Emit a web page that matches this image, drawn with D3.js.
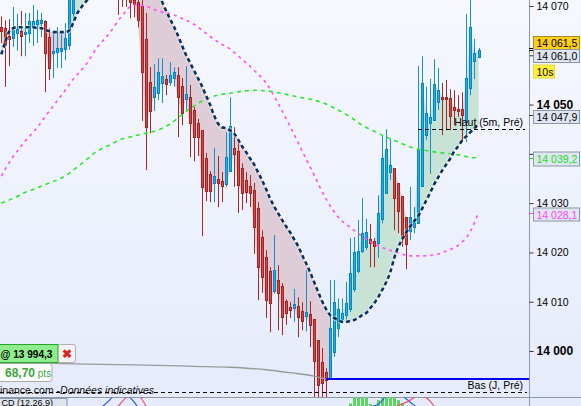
<!DOCTYPE html>
<html><head><meta charset="utf-8">
<script src="https://cdn.jsdelivr.net/npm/d3@7"></script>
<style>body{margin:0;overflow:hidden;background:#fff}svg{display:block;font-family:"Liberation Sans",Arial,sans-serif}</style>
</head><body><svg id="c" width="581" height="406"></svg>
<script>
// ---------- DATA ----------
const candleOpen = [
14065.7,14065.5,14063.9,14063.5,14064.5,14064.9,14064.3,14064.5,14065.7,14066.3,
14066.5,14066.9,14063.7,14060.4,14060.7,14060.9,14061.3,14062.1,14068.6,14078.5,
14081.2,14080.3,14082.6,14084.2,14082.7,14081.5,14079.6,14080.8,14077.4,14073.6,
14073.2,14072.8,14072.4,14071.2,14070.8,14070.0,14063.3,14054.6,14051.5,14052.3,
14054.4,14055.2,14054.6,14055.4,14056.0,14053.8,14051.1,14051.5,14048.9,14046.2,
14044.8,14039.1,14035.9,14034.1,14034.9,14034.5,14033.9,14036.5,14041.2,14040.6,
14037.1,14034.7,14033.5,14032.7,14029.0,14023.1,14019.1,14016.2,14012.2,14014.4,
14013.2,14010.1,14008.9,14008.7,14009.1,14008.1,14007.1,14007.5,14006.5,14002.2,
13997.8,13995.7,13994.3,13999.8,14004.7,14006.5,14007.3,14008.5,14012.6,14016.2,
14020.3,14021.1,14022.7,14022.3,14021.9,14026.8,14032.0,14036.3,14037.1,14034.1,
14031.4,14027.2,14024.3,14025.1,14025.9,14033.5,14043.8,14046.2,14046.9,14050.5,
14051.5,14051.5,14051.3,14049.5,14049.1,14049.1,14046.5,14053.3,14058.8,14059.6];
const candleHigh = [
14067.9,14067.1,14067.3,14069.8,14068.4,14069.0,14068.6,14068.6,14070.2,14069.2,
14068.6,14067.1,14065.5,14064.5,14065.7,14064.5,14066.5,14077.3,14080.0,14082.4,
14084.0,14083.5,14085.8,14086.1,14084.9,14083.7,14082.0,14082.3,14079.0,14074.9,
14074.2,14074.0,14073.2,14072.4,14071.8,14071.2,14068.6,14057.6,14058.2,14059.4,
14059.4,14056.0,14058.6,14057.6,14057.6,14055.4,14057.8,14054.0,14049.5,14047.1,
14044.8,14040.2,14036.5,14041.2,14039.6,14036.3,14044.4,14051.5,14045.4,14042.8,
14038.1,14036.3,14035.7,14034.1,14030.2,14024.5,14020.5,14017.0,14023.5,14017.4,
14013.8,14010.5,14009.9,14012.6,14010.9,14009.9,14016.4,14010.1,14006.5,14002.2,
14000.6,13996.5,14014.4,14014.4,14010.7,14010.7,14014.0,14022.9,14023.1,14026.6,
14031.0,14026.8,14025.8,14022.9,14031.6,14043.8,14045.0,14043.0,14037.1,14034.1,
14031.4,14027.2,14033.3,14029.2,14057.8,14059.8,14053.6,14055.2,14059.2,14057.4,
14054.4,14055.0,14053.1,14052.9,14051.9,14052.5,14068.4,14072.2,14063.3,14061.5];
const candleLow = [
14062.5,14053.6,14057.8,14061.7,14060.9,14059.8,14059.8,14062.5,14061.9,14062.5,
14063.7,14052.5,14055.0,14055.4,14057.4,14057.4,14059.0,14061.1,14066.9,14076.8,
14079.5,14078.6,14081.0,14081.9,14080.2,14078.8,14077.9,14076.5,14074.8,14068.2,
14069.8,14069.8,14067.5,14067.7,14065.7,14046.7,14036.7,14044.2,14048.7,14050.9,
14050.3,14051.9,14053.8,14053.6,14043.4,14045.8,14048.9,14039.3,14038.5,14039.6,
14023.3,14030.4,14030.2,14030.2,14029.2,14030.2,14033.3,14036.5,14033.3,14028.0,
14028.6,14030.0,14029.2,14019.7,14010.3,14011.8,14006.7,14003.8,14011.6,14004.2,
14003.2,14005.3,14006.7,14005.9,14002.8,14004.2,14004.0,14000.8,13990.0,13990.0,
13990.0,13990.0,13994.3,13998.8,14002.8,14005.7,14006.3,14007.9,14012.0,14015.8,
14019.9,14020.5,14017.0,14017.0,14018.9,14025.9,14032.0,14034.7,14024.5,14023.9,
14021.1,14016.6,14022.5,14023.9,14025.9,14033.5,14042.8,14035.9,14046.7,14048.9,
14043.8,14045.0,14044.8,14045.8,14047.5,14042.4,14042.4,14051.9,14055.2,14059.4];
const candleClose = [
14064.9,14062.1,14063.3,14065.1,14065.3,14063.9,14064.7,14066.9,14066.9,14067.1,
14067.1,14060.4,14057.4,14060.9,14061.5,14061.5,14063.5,14075.3,14078.5,14081.2,
14080.3,14082.6,14084.2,14082.7,14081.5,14079.6,14080.8,14077.4,14075.6,14072.0,
14072.2,14071.8,14070.8,14070.4,14067.1,14056.6,14045.4,14048.7,14053.6,14056.6,
14055.8,14054.2,14056.0,14056.6,14051.5,14048.3,14052.1,14046.2,14043.4,14043.4,
14033.3,14032.4,14032.4,14035.5,14034.1,14033.5,14039.3,14045.6,14040.0,14033.7,
14032.0,14032.2,14032.0,14025.1,14017.0,14015.0,14010.3,14009.7,14016.4,14011.8,
14006.9,14007.7,14008.3,14009.5,14006.9,14006.1,14007.9,14005.3,13997.9,13993.1,
13993.5,13994.1,14004.7,14009.9,14008.5,14007.7,14009.7,14015.8,14020.1,14020.3,
14023.9,14024.1,14021.9,14021.3,14028.0,14039.1,14041.0,14037.7,14031.0,14028.4,
14023.1,14021.7,14027.2,14026.2,14041.0,14054.4,14048.3,14047.5,14054.2,14052.9,
14051.1,14051.1,14047.7,14048.9,14048.7,14047.9,14055.4,14065.7,14060.4,14061.0];
// trailing stop (dashed navy line)
const stopLine = [
14060.2,14062.7,14064.9,14065.5,14065.7,14065.7,14065.7,14065.7,14065.7,14065.5,
14065.5,14065.1,14064.9,14064.7,14064.7,14064.7,14064.7,14065.1,14066.7,14068.6,
14069.8,14070.8,14071.8,14072.9,14074.0,14075.0,14075.8,14076.3,14076.6,14086.0,
14085.2,14084.3,14083.3,14082.2,14081.0,14079.7,14078.2,14076.6,14074.8,14072.9,
14071.0,14069.2,14067.5,14065.9,14064.1,14062.1,14060.2,14058.6,14057.0,14055.4,
14053.8,14051.9,14050.1,14047.9,14046.2,14045.4,14045.2,14044.8,14044.2,14043.0,
14041.6,14040.4,14039.1,14037.9,14036.3,14034.7,14032.9,14031.0,14029.4,14028.0,
14026.6,14025.3,14024.1,14022.7,14021.3,14019.5,14017.8,14016.0,14014.0,14012.0,
14010.1,14008.5,14007.3,14006.7,14006.3,14005.9,14005.9,14006.1,14006.3,14006.7,
14007.3,14007.7,14008.7,14009.7,14010.9,14012.4,14014.0,14016.0,14018.9,14021.1,
14022.7,14024.1,14025.3,14026.4,14027.4,14029.0,14030.6,14032.2,14033.9,14035.3,
14036.7,14037.9,14039.1,14040.6,14041.6,14042.8,14043.6,14044.4,14045.2,14046.0];
const trendRanges = [[0,10,"up"],[11,16,"down"],[17,28,"up"],[29,82,"down"],[83,119,"up"]];
// moving averages (sampled at candle indices)
const maIdx = [0,3,6,9,12,15,18,21,24,27,30,33,36,39,42,45,48,51,54,57,60,63,66,69,72,75,78,81,84,87,90,93,96,99,102,105,108,111,114,117,119];
const maMagenta = [14035.5,14039.5,14042.6,14045.4,14048.7,14051.9,14055.2,14058.0,14061.7,14064.5,14067.9,14070.2,14070.0,14069.0,14068.5,14067.5,14066.3,14064.5,14062.7,14061.3,14059.2,14057.0,14054.4,14050.3,14045.6,14040.6,14035.7,14030.8,14027.2,14025.1,14023.3,14021.7,14020.7,14019.9,14019.3,14019.3,14019.5,14020.3,14021.5,14024.3,14028.1];
const maGreen = [14030.0,14031.0,14032.2,14033.1,14034.1,14035.1,14036.7,14038.7,14040.6,14041.8,14043.0,14043.6,14044.2,14044.8,14046.0,14047.9,14049.7,14051.1,14051.9,14052.3,14052.7,14052.9,14052.8,14052.4,14051.9,14051.4,14050.9,14050.1,14048.9,14047.5,14045.8,14044.6,14043.4,14042.4,14041.4,14040.8,14040.4,14040.1,14039.8,14039.3,14039.2];
const maGrayIdx = [0,18,33,48,57,66,72,78,81];
const maGray = [13997.8,13997.4,13997.2,13996.9,13996.7,13996.2,13995.6,13994.9,13994.3];
// axis
const yTicks = [14000,14010,14020,14030,14040,14050,14060,14070];
const yTickLabelled = [14000,14010,14020,14030,14050,14070]; // 14040/14060 sit under price tags
// levels
const levelHaut = 14045.0, levelBas = 13991.6, orderLevel = 13994.3;
const priceAsk = 14061.5, priceLast = 14061.0, levelBox = 14047.9;
const lastGreen = 14039.2, lastMagenta = 14028.1;
// MACD panel (only its top edge is visible)
const histIdx = [84,85,86,87,88,89,90,91,92,93,94,95,96,97,98,99,100,101,102,103,104,105];
const histVal = [6.0,7.0,7.5,8.7,11,11,11,11,8.6,7.5,9.5,10.5,11,11,10.5,9.5,8.8,8.0,7.5,7.0,6.5,6.0];
const macdIdx = [24,27,29,31,33,35,85,90,94,96,98,100,102,104,106];
const macdVal = [7.0,9.5,11.5,11,9.2,7.0,6.0,7.5,8.5,10.5,11.5,10.5,9.0,7.5,6.5];
const sigIdx  = [26,29,31,33,35,37,88,94,98,100,102,104,106,108];
const sigVal  = [6.5,8.0,10.0,11,9.8,7.0,5.5,6.5,7.8,8.6,9.5,10.5,10.0,8.0];

// ---------- CHART ----------
const W=581,H=406,plotR=529,plotB=397;
const svg=d3.select("#c");
const defs=svg.append("defs");
const gr=defs.append("linearGradient").attr("id","bg").attr("x1",0).attr("y1",0).attr("x2",0).attr("y2",1);
gr.append("stop").attr("offset","0%").attr("stop-color","#f6f8fe");
gr.append("stop").attr("offset","100%").attr("stop-color","#e5ebfb");
svg.append("rect").attr("width",W).attr("height",H).attr("fill","url(#bg)");
defs.append("clipPath").attr("id","clip").append("rect").attr("width",plotR).attr("height",plotB);
defs.append("clipPath").attr("id","clip2").append("rect").attr("y",plotB+0.5).attr("width",plotR).attr("height",H-plotB);

const x=d3.scaleLinear().domain([0,119]).range([1.3,478.5]);
const y=d3.scaleLinear().domain([14000,14070]).range([351,6]);
const g=svg.append("g").attr("clip-path","url(#clip)");

// trend fills
trendRanges.forEach(([a,b,dir])=>{
  const up=dir==="up";
  const area=d3.area().x(i=>x(i)).y0(i=>y(stopLine[i]))
    .y1(i=>up?y(Math.max(candleOpen[i],candleClose[i])):y(Math.min(candleOpen[i],candleClose[i])));
  g.append("path").datum(d3.range(a,b+1)).attr("d",area).attr("fill",up?"#c9e2d6":"#decdd7");
});

// candles
const idx=d3.range(candleOpen.length);
const cg=g.append("g");
idx.forEach(i=>{
  const up=candleClose[i]>=candleOpen[i];
  const px=Math.round(x(i));
  cg.append("line").attr("x1",px+0.5).attr("x2",px+0.5)
    .attr("y1",y(candleHigh[i])).attr("y2",y(candleLow[i]))
    .attr("stroke",up?"#1590cc":"#a82828").attr("stroke-width",1);
  const t=Math.round(y(Math.max(candleOpen[i],candleClose[i]))), bt=Math.round(y(Math.min(candleOpen[i],candleClose[i])));
  cg.append("rect").attr("x",px-0.5).attr("y",t+0.5).attr("width",2).attr("height",Math.max(1,bt-t))
    .attr("fill",up?"#19b2ea":"#d94848").attr("stroke",up?"#0a84c2":"#a42222").attr("stroke-width",1);
});

// moving averages
const maLine=d3.line().x(d=>x(d[0])).y(d=>y(d[1])).curve(d3.curveMonotoneX);
g.append("path").datum(maIdx.map((k,j)=>[k,maMagenta[j]])).attr("d",maLine)
  .attr("fill","none").attr("stroke","#ff4dff").attr("stroke-width",1.6).attr("stroke-dasharray","3,4");
g.append("path").datum(maIdx.map((k,j)=>[k,maGreen[j]])).attr("d",maLine)
  .attr("fill","none").attr("stroke","#2ee82e").attr("stroke-width",1.6).attr("stroke-dasharray","4,4");
g.append("path").datum(maGrayIdx.map((k,j)=>[k,maGray[j]])).attr("d",maLine)
  .attr("fill","none").attr("stroke","#9a9a9a").attr("stroke-width",1.3);

// trailing stop
const stopPath=d3.line().x(i=>x(i)).y(i=>y(stopLine[i])).curve(d3.curveMonotoneX);
g.append("path").datum(idx).attr("d",stopPath).attr("fill","none")
  .attr("stroke","#ffffff").attr("stroke-opacity",0.55).attr("stroke-width",4.6).attr("stroke-dasharray","4,3");
g.append("path").datum(idx).attr("d",stopPath).attr("fill","none")
  .attr("stroke","#0c2f5c").attr("stroke-width",2.6).attr("stroke-dasharray","4,3");

// levels
g.append("line").attr("x1",418).attr("x2",525).attr("y1",Math.round(y(levelHaut))+0.5).attr("y2",Math.round(y(levelHaut))+0.5)
  .attr("stroke","#000").attr("stroke-dasharray","4,3");
g.append("text").attr("x",523).attr("y",y(levelHaut)-3.5).attr("text-anchor","end").attr("font-size","10.5px").text("Haut (5m, Pré)");
g.append("line").attr("x1",0).attr("x2",527).attr("y1",Math.round(y(levelBas))+0.5).attr("y2",Math.round(y(levelBas))+0.5)
  .attr("stroke","#000").attr("stroke-dasharray","4,3");
g.append("text").attr("x",523).attr("y",y(levelBas)-3.5).attr("text-anchor","end").attr("font-size","10.5px").text("Bas (J, Pré)");
g.append("line").attr("x1",x(81)).attr("x2",plotR).attr("y1",y(orderLevel)).attr("y2",y(orderLevel))
  .attr("stroke","#0000ee").attr("stroke-width",2);

// order tag bottom-left
const fmt=v=>d3.format(",.1f")(v).replace(",","\u202F").replace(".",",").replace("\u202F"," ");
svg.append("rect").attr("x",-1).attr("y",344.5).attr("width",59).attr("height",18).attr("fill","#8eee8e").attr("stroke","#2aa52a");
svg.append("text").attr("x",0.5).attr("y",358).attr("font-size","11.5px").attr("font-weight","bold")
  .attr("textLength",52).attr("lengthAdjust","spacingAndGlyphs").text("@ "+fmt(orderLevel));
svg.append("rect").attr("x",58.5).attr("y",344.5).attr("width",17).attr("height",18).attr("rx",2).attr("fill","#f3f3f3").attr("stroke","#b0b0b0");
svg.append("text").attr("x",67).attr("y",358).attr("text-anchor","middle").attr("font-size","12px").attr("fill","#dd2222").attr("font-weight","bold").text("\u2716");
svg.append("rect").attr("x",-3).attr("y",363.5).attr("width",55).attr("height",18).attr("rx",3).attr("fill","#fff").attr("stroke","#aaaaaa");
const pt=svg.append("text").attr("x",5).attr("y",377).attr("fill","#3aa53a").attr("font-size","12px");
pt.append("tspan").attr("font-weight","bold").text("68,70");
pt.append("tspan").attr("font-size","10px").text(" pts");
const src=svg.append("text").attr("x",0).attr("y",394).attr("font-size","10.5px").attr("fill","#111");
src.append("tspan").text("inance.com -");
src.append("tspan").attr("font-style","italic").text("Données indicatives");

// MACD panel
svg.append("line").attr("x1",0).attr("x2",W).attr("y1",plotB+0.5).attr("y2",plotB+0.5).attr("stroke","#8a98aa");
const pg=svg.append("g").attr("clip-path","url(#clip2)");
const py=d3.scaleLinear().domain([0,10]).range([440,398]);
histIdx.forEach((k,j)=>{
  pg.append("rect").attr("x",Math.round(x(k))-1).attr("width",3).attr("y",py(histVal[j])).attr("height",440-py(histVal[j])).attr("fill","#5fd35f");
});
const mLine=d3.line().x(d=>x(d[0])).y(d=>py(d[1])).curve(d3.curveMonotoneX);
pg.append("path").datum(macdIdx.map((k,j)=>[k,macdVal[j]])).attr("d",mLine).attr("fill","none").attr("stroke","#3355ee").attr("stroke-width",1.2);
pg.append("path").datum(sigIdx.map((k,j)=>[k,sigVal[j]])).attr("d",mLine).attr("fill","none").attr("stroke","#ee5577").attr("stroke-width",1.2);
svg.append("rect").attr("x",-1).attr("y",plotB+1.5).attr("width",68).attr("height",14).attr("fill","#dfe4ee").attr("stroke","#8a98aa");
svg.append("text").attr("x",1.5).attr("y",405.5).attr("font-size","9px").text("CD (12,26,9)");

// right axis
svg.append("line").attr("x1",plotR+0.5).attr("x2",plotR+0.5).attr("y1",0).attr("y2",H).attr("stroke","#8a98aa");
const ax=svg.append("g").attr("transform",`translate(${plotR+0.5},0)`)
  .call(d3.axisRight(y).tickValues(yTicks).tickSize(4).tickPadding(3)
  .tickFormat(d=>yTickLabelled.includes(d)?d3.format(",")(d).replace(","," "):""));
ax.select(".domain").remove();
ax.selectAll(".tick line").attr("stroke","#333");
ax.selectAll(".tick text").attr("fill","#000").attr("font-family","Liberation Sans, Arial, sans-serif")
  .attr("font-size",d=>d%50===0?"12px":"10.5px").attr("font-weight",d=>d%50===0?"bold":"normal");

function tag(top,h,w,label,fill,stroke,color){
  svg.append("rect").attr("x",533.5).attr("y",top+0.5).attr("width",w).attr("height",h).attr("fill",fill).attr("stroke",stroke);
  svg.append("text").attr("x",536.5).attr("y",top+h/2+4.5).attr("font-size","10.5px").attr("fill",color).text(label);
}
function mark(v,color){
  svg.append("line").attr("x1",plotR).attr("x2",534).attr("y1",Math.round(y(v))+0.5).attr("y2",Math.round(y(v))+0.5).attr("stroke",color);
}
mark(priceAsk,"#000"); mark(priceLast,"#000"); mark(levelBox,"#334"); mark(lastGreen,"#22dd22"); mark(lastMagenta,"#ff44ff");
tag(Math.round(y(priceAsk))-12,13,46,fmt(priceAsk),"#ffcf12","#a08a30","#000");
tag(Math.round(y(priceLast))-1,13,46,fmt(priceLast),"#dfe6f2","#8a98aa","#000");
tag(Math.round(y(priceLast))+14.5,13,21,"10s","#fff03a","#e8d840","#000");
tag(Math.round(y(levelBox))-5,13,46,fmt(levelBox),"#dfe6f2","#8a98aa","#000");
tag(Math.round(y(lastGreen))-6.5,14,46,fmt(lastGreen),"#dfe6f2","#8a98aa","#22dd22");
tag(Math.round(y(lastMagenta))-5.5,13,46,fmt(lastMagenta),"#dfe6f2","#8a98aa","#ff44ff");
</script></body></html>
